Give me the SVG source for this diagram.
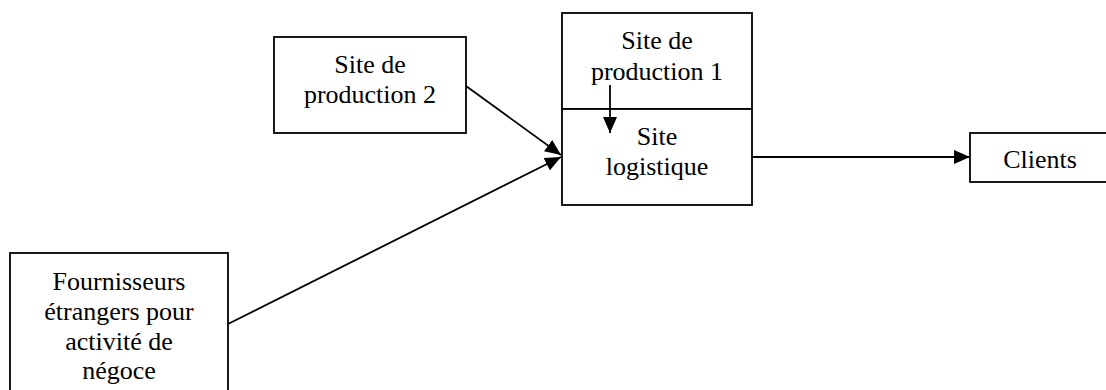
<svg xmlns="http://www.w3.org/2000/svg" width="1106" height="390" viewBox="0 0 1106 390">
<style>
.box{fill:#fff;stroke:#000;stroke-width:1.8}
.t{font-family:'Liberation Serif','Times New Roman','DejaVu Serif',serif;font-size:26px;fill:#000;text-anchor:middle}
.c{stroke:#000;stroke-width:1.8;fill:none}
</style>
<defs>
<marker id="ah" markerWidth="16" markerHeight="14" refX="16" refY="7" orient="auto" markerUnits="userSpaceOnUse">
<path d="M0,0 L16,7 L0,14 Z" fill="#000"/>
</marker>
</defs>
<rect width="1106" height="390" fill="#fff"/>
<g id="prod2">
<rect class="box" x="274" y="37" width="192" height="96"/>
<text class="t" x="370" y="73" font-family="Liberation Serif, serif">Site de</text>
<text class="t" x="370" y="103" font-family="Liberation Serif, serif">production 2</text>
</g>
<g id="prod1">
<rect class="box" x="562" y="13" width="190" height="96"/>
<text class="t" x="657" y="49" font-family="Liberation Serif, serif">Site de</text>
<text class="t" x="657" y="80" font-family="Liberation Serif, serif">production 1</text>
</g>
<g id="logistique">
<rect class="box" x="562" y="109" width="190" height="96"/>
<text class="t" x="657" y="145" font-family="Liberation Serif, serif">Site</text>
<text class="t" x="657" y="175" font-family="Liberation Serif, serif">logistique</text>
</g>
<g id="clients">
<rect class="box" x="970" y="133" width="140" height="49"/>
<text class="t" x="1040" y="168" font-family="Liberation Serif, serif">Clients</text>
</g>
<g id="fournisseurs">
<rect class="box" x="10" y="253" width="218" height="150"/>
<text class="t" x="119" y="290" font-family="Liberation Serif, serif">Fournisseurs</text>
<text class="t" x="119" y="320" font-family="Liberation Serif, serif">étrangers pour</text>
<text class="t" x="119" y="350" font-family="Liberation Serif, serif">activité de</text>
<text class="t" x="119" y="379" font-family="Liberation Serif, serif">négoce</text>
</g>
<g id="connectors">
<line class="c" x1="466" y1="86" x2="561" y2="155" marker-end="url(#ah)"/>
<line class="c" x1="228" y1="324" x2="561" y2="157" marker-end="url(#ah)"/>
<line class="c" x1="610" y1="85" x2="610" y2="133" marker-end="url(#ah)"/>
<line class="c" x1="752" y1="157" x2="970" y2="157" marker-end="url(#ah)"/>
</g>
</svg>
